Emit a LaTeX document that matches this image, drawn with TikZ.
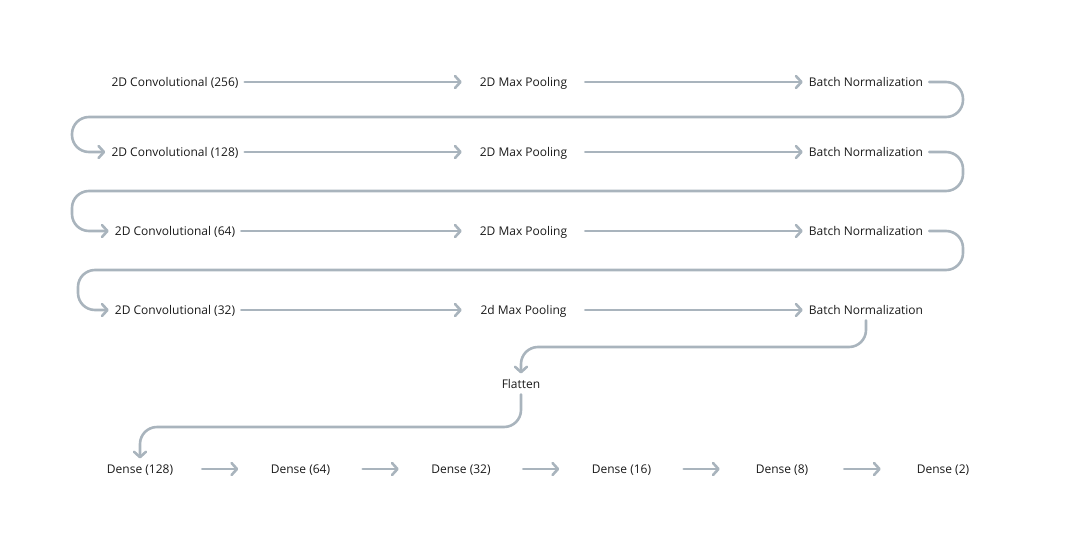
\documentclass[tikz,border=0pt]{standalone}
\usepackage{fontspec}
\setmainfont{Open Sans}
\usetikzlibrary{arrows.meta}
\definecolor{linec}{HTML}{A9B4BD}
\definecolor{txt}{HTML}{1A1A1A}
\begin{document}
\begin{tikzpicture}[x=1pt,y=-1pt,
  lbl/.style={font=\fontsize{12}{14}\selectfont, text=txt, inner sep=6pt, text height=8.6pt, text depth=0pt},
  pool/.style={lbl, minimum width=123pt},
  dense/.style={lbl, minimum width=124pt},
  conn/.style={draw=linec, line width=2.6pt, line cap=round, rounded corners=17pt,
    -{Straight Barb[length=5.5pt,width=12pt,line cap=round,line join=round]}}]
\useasboundingbox (0,0) rectangle (1077,552);
% row 1
\node[lbl] (c1) at (175,82) {2D Convolutional (256)};
\node[pool] (p1) at (523.5,82) {2D Max Pooling};
\node[lbl] (b1) at (866,82) {Batch Normalization};
% row 2
\node[lbl] (c2) at (175,152) {2D Convolutional (128)};
\node[pool] (p2) at (523.5,152) {2D Max Pooling};
\node[lbl] (b2) at (866,152) {Batch Normalization};
% row 3
\node[lbl] (c3) at (175,231) {2D Convolutional (64)};
\node[pool] (p3) at (523.5,231) {2D Max Pooling};
\node[lbl] (b3) at (866,231) {Batch Normalization};
% row 4
\node[lbl] (c4) at (175,310) {2D Convolutional (32)};
\node[pool] (p4) at (523.5,310) {2d Max Pooling};
\node[lbl] (b4) at (866,310) {Batch Normalization};
% flatten
\node[lbl] (fl) at (521,384) {Flatten};
% dense row
\node[dense] (d1) at (140,469) {Dense (128)};
\node[dense] (d2) at (300.5,469) {Dense (64)};
\node[dense] (d3) at (461,469) {Dense (32)};
\node[dense] (d4) at (621.5,469) {Dense (16)};
\node[dense] (d5) at (782,469) {Dense (8)};
\node[dense] (d6) at (943,469) {Dense (2)};
% horizontal arrows
\foreach \r in {1,2,3,4}{
  \draw[conn] (c\r.east) -- (p\r.west);
  \draw[conn] (p\r.east) -- (b\r.west);
}
% loops
\draw[conn] (b1.east) -- (963,82) -- (963,117) -- (72,117) -- (72,152) -- (c2.west);
\draw[conn] (b2.east) -- (963,152) -- (963,191) -- (72,191) -- (72,231) -- (c3.west);
\draw[conn] (b3.east) -- (963,231) -- (963,270) -- (78,270) -- (78,310) -- (c4.west);
% to flatten
\draw[conn] (b4.south) -- (866,347) -- (521,347) -- (fl.north);
\draw[conn] (fl.south) -- (521,427) -- (140,427) -- (d1.north);
% dense arrows
\draw[conn] (d1.east) -- (d2.west);
\draw[conn] (d2.east) -- (d3.west);
\draw[conn] (d3.east) -- (d4.west);
\draw[conn] (d4.east) -- (d5.west);
\draw[conn] (d5.east) -- (d6.west);
\end{tikzpicture}
\end{document}
